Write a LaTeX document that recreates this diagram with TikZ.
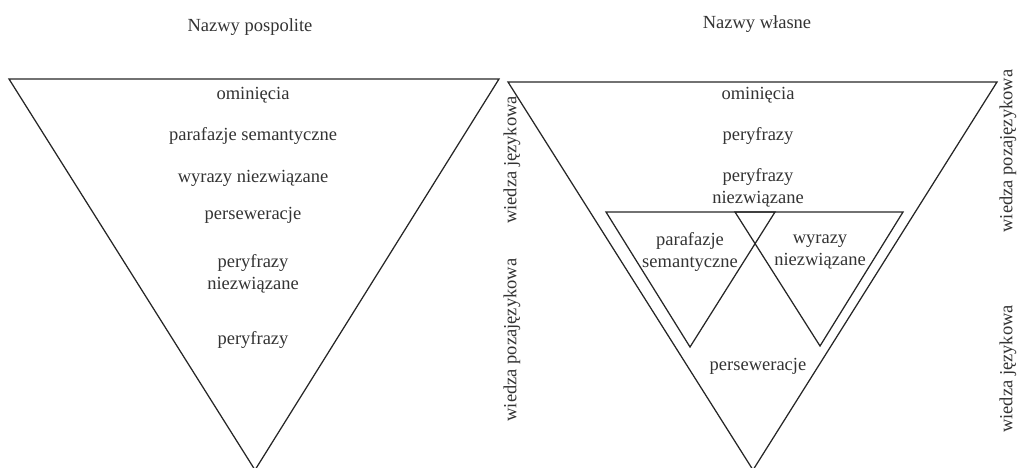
\documentclass[tikz,border=0pt]{standalone}
\usepackage{fontspec}
\setmainfont{Liberation Serif}
\begin{document}
\begin{tikzpicture}[x=1pt,y=-1pt,
  tri/.style={draw=black!85,line width=1.25pt,line join=miter},
  lbl/.style={font=\fontsize{18.5}{21.5}\selectfont,text=black!80,inner sep=0pt,align=center},
  side/.style={lbl,rotate=90}]
\useasboundingbox (0,0) rectangle (1019,468);
% left diagram: common nouns
\node[lbl] (t1) at (250,27) {Nazwy pospolite};
\draw[tri] (9,79) -- (499,79) -- (255,470) -- cycle;
\node[lbl] (l1) at (253,95) {ominięcia};
\node[lbl] (l2) at (253,136) {parafazje semantyczne};
\node[lbl] (l3) at (253,178) {wyrazy niezwiązane};
\node[lbl] (l4) at (253,215) {perseweracje};
\node[lbl] (l5) at (253,274) {peryfrazy\\niezwiązane};
\node[lbl] (l6) at (253,340) {peryfrazy};
\node[side] (s1) at (512,160) {wiedza językowa};
\node[side] (s2) at (512,340) {wiedza pozajęzykowa};
% right diagram: proper nouns
\node[lbl] (t2) at (757,24) {Nazwy własne};
\draw[tri] (508,82) -- (997,82) -- (753,470) -- cycle;
\draw[tri] (606,212) -- (775,212) -- (690,347) -- cycle;
\draw[tri] (735,212) -- (903,212) -- (820,346) -- cycle;
\node[lbl] (r1) at (758,95) {ominięcia};
\node[lbl] (r2) at (758,136) {peryfrazy};
\node[lbl] (r3) at (758,188) {peryfrazy\\niezwiązane};
\node[lbl] (r4) at (690,252) {parafazje\\semantyczne};
\node[lbl] (r5) at (820,252) {wyrazy\\niezwiązane};
\node[lbl] (r6) at (758,366) {perseweracje};
\node[side] (s3) at (1008,151) {wiedza pozajęzykowa};
\node[side] (s4) at (1008,369) {wiedza językowa};
\end{tikzpicture}
\end{document}
